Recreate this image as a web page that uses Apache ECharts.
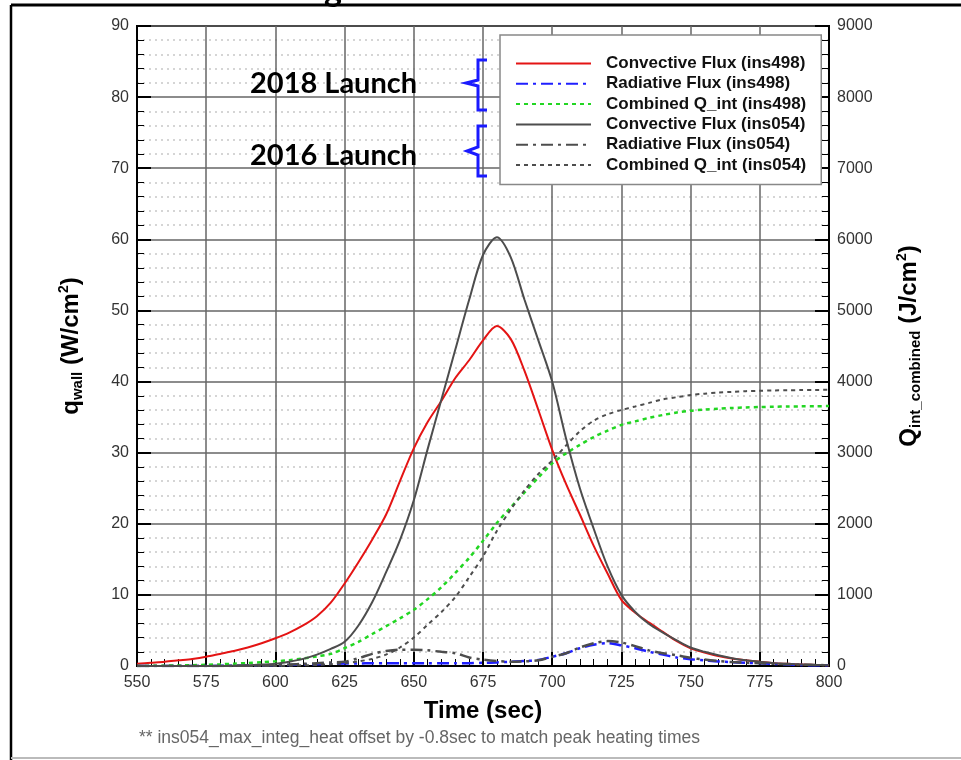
<!DOCTYPE html>
<html><head><meta charset="utf-8">
<script src="https://cdn.jsdelivr.net/npm/echarts@6/dist/echarts.min.js"></script>
<style>html,body{margin:0;padding:0;background:#fff}#c{width:961px;height:760px}</style>
</head><body><div id="c"></div>
<script>
// Time (sec)
const times = [550,555,560,565,570,575,580,585,590,595,600,605,610,615,620,625,630,635,640,645,650,655,660,665,670,675,680,685,690,695,700,705,710,715,720,725,730,735,740,745,750,755,760,765,770,775,780,785,790,795,800];
// Convective Flux ins498 (W/cm2)
const conv498 = [0.3,0.45,0.6,0.8,1.0,1.3,1.7,2.1,2.6,3.2,3.9,4.7,5.7,7.0,8.9,11.6,14.6,17.8,21.3,26.0,30.6,34.3,37.3,40.5,43.0,45.8,47.8,46.0,41.5,36.0,30.4,25.6,21.3,16.9,13.0,9.3,7.5,6.1,4.8,3.5,2.5,1.9,1.4,1.05,0.8,0.6,0.4,0.3,0.2,0.15,0.1];
// Radiative Flux ins498 (W/cm2)
const rad498 = [0,0,0,0,0,0,0.02,0.04,0.06,0.08,0.1,0.15,0.2,0.25,0.3,0.35,0.35,0.4,0.4,0.4,0.4,0.4,0.4,0.4,0.4,0.45,0.5,0.6,0.7,0.85,1.3,1.8,2.5,3.0,3.2,2.9,2.5,2.0,1.6,1.2,0.95,0.8,0.65,0.55,0.45,0.4,0.3,0.2,0.15,0.1,0.1];
// Combined Q_int ins498 (J/cm2)
const qint498 = [0,2,5,8,12,17,24,32,42,52,65,82,105,135,170,250,340,450,560,670,790,940,1110,1310,1520,1760,2010,2230,2440,2650,2850,2990,3110,3220,3310,3390,3440,3490,3530,3565,3590,3605,3618,3628,3636,3642,3646,3649,3651,3653,3655];
// Convective Flux ins054 (W/cm2)
const conv054 = [0,0,0,0,0,0,0,0.05,0.1,0.2,0.3,0.6,1.0,1.6,2.4,3.4,5.7,9.0,13.2,17.7,23.3,30.5,37.5,44.5,51.5,57.8,60.3,57.5,51.5,45.8,40.0,32.0,25.0,19.3,14.0,10.0,7.6,5.9,4.7,3.6,2.6,2.0,1.5,1.1,0.8,0.6,0.4,0.3,0.2,0.15,0.1];
// Radiative Flux ins054 (W/cm2)
const rad054 = [0,0,0,0,0,0,0,0.02,0.04,0.07,0.1,0.2,0.3,0.4,0.5,0.6,1.1,1.7,2.1,2.3,2.3,2.2,2.0,1.8,1.2,0.9,0.7,0.6,0.65,0.8,1.3,1.8,2.6,3.2,3.5,3.3,2.8,2.2,1.8,1.5,1.15,0.9,0.7,0.55,0.45,0.4,0.3,0.25,0.2,0.15,0.1];
// Combined Q_int ins054 (J/cm2)
const qint054 = [0,0,0,0,0,0,0,0,0,0,0,5,10,15,25,40,65,100,160,260,400,580,760,970,1250,1540,1900,2200,2470,2700,2890,3100,3300,3450,3540,3600,3650,3700,3750,3780,3810,3830,3845,3855,3865,3870,3875,3878,3880,3882,3884];

const leftTicks = [0,10,20,30,40,50,60,70,80,90];
const rightTicks = [0,1000,2000,3000,4000,5000,6000,7000,8000,9000];

const pair = v => times.map((t,i)=>[t,v[i]]);
const FF = '"Liberation Sans", Arial, sans-serif';

const chart = echarts.init(document.getElementById('c'), null, {renderer:'canvas'});
const tickStyle = {show:true, inside:true, length:14, lineStyle:{color:'#000', width:2}};
const minorTickStyle = {show:true, splitNumber:5, length:7, lineStyle:{color:'#000', width:1}};

function mk(name, data, axis, color, width, type){
  return {name, type:'line', data:pair(data), yAxisIndex:axis, symbol:'none', smooth:0.3,
    lineStyle:{color, width, type}, itemStyle:{color}, z:3};
}
const nameRich = {
  b:{fontFamily:FF, fontSize:24, fontWeight:'bold', color:'#000'},
  s:{fontFamily:FF, fontSize:15, fontWeight:'bold', color:'#000', padding:[13,0,0,0]},
  p:{fontFamily:FF, fontSize:14, fontWeight:'bold', color:'#000', padding:[0,0,13,0]}
};

chart.setOption({
  animation:false,
  backgroundColor:'#fff',
  grid:{left:137, right:132, top:26, bottom:94, show:true, borderColor:'#000', borderWidth:2},
  legend:{
    orient:'vertical', left:500, top:35, padding:[20,15,11,15], itemGap:3.3,
    itemWidth:75, itemHeight:14, backgroundColor:'#fff', borderColor:'#888', borderWidth:1.5,
    itemStyle:{opacity:0},
    textStyle:{fontFamily:FF, fontSize:17, fontWeight:'bold', color:'#111', padding:[0,0,0,10]},
    data:['Convective Flux (ins498)','Radiative Flux (ins498)','Combined Q_int (ins498)','Convective Flux (ins054)','Radiative Flux (ins054)','Combined Q_int (ins054)'],
    z:10
  },
  xAxis:{
    type:'value', min:550, max:800, interval:25,
    name:'Time (sec)', nameLocation:'middle', nameGap:33,
    nameTextStyle:{fontFamily:FF, fontSize:24, fontWeight:'bold', color:'#000'},
    axisLine:{show:true, lineStyle:{color:'#000', width:2}},
    axisTick:tickStyle, minorTick:minorTickStyle,
    axisLabel:{fontFamily:FF, fontSize:16, color:'#333', margin:9},
    splitLine:{show:true, lineStyle:{color:'#666', width:1.5}}
  },
  yAxis:[{
    type:'value', min:0, max:90, interval:10, position:'left',
    name:'{b|q}{s|wall}{b| (W/cm}{p|2}{b|)}', nameLocation:'middle', nameRotate:90, nameGap:52,
    nameTextStyle:{rich:nameRich},
    axisLine:{show:true, lineStyle:{color:'#000', width:2}},
    axisTick:tickStyle, minorTick:minorTickStyle,
    axisLabel:{fontFamily:FF, fontSize:16, color:'#333', margin:8, formatter:v=>leftTicks.includes(v)?String(v):''},
    splitLine:{show:true, lineStyle:{color:'#666', width:1.5}},
    minorSplitLine:{show:true, lineStyle:{color:'#c8c8c8', width:1.5, type:[2,4]}}
  },{
    type:'value', min:0, max:9000, interval:1000, position:'right',
    name:'{b|Q}{s|int_combined}{b| (J/cm}{p|2}{b|)}', nameLocation:'middle', nameRotate:90, nameGap:66,
    nameTextStyle:{rich:nameRich},
    axisLine:{show:true, lineStyle:{color:'#000', width:2}},
    axisTick:tickStyle, minorTick:minorTickStyle,
    axisLabel:{fontFamily:FF, fontSize:16, color:'#333', margin:8, formatter:v=>rightTicks.includes(v)?String(v):''},
    splitLine:{show:false}
  }],
  series:[
    mk('Convective Flux (ins498)', conv498, 0, '#e41414', 2, 'solid'),
    mk('Radiative Flux (ins498)', rad498, 0, '#1f1fff', 2.5, [12,5,3,5]),
    mk('Combined Q_int (ins498)', qint498, 1, '#22d622', 2.5, [4,4]),
    mk('Convective Flux (ins054)', conv054, 0, '#4d4d4d', 2, 'solid'),
    mk('Radiative Flux (ins054)', rad054, 0, '#4d4d4d', 2.5, [12,5,3,5]),
    mk('Combined Q_int (ins054)', qint054, 1, '#4d4d4d', 2, [4,4])
  ],
  graphic:[
    {type:'line', shape:{x1:11, y1:5, x2:961, y2:5}, style:{stroke:'#000', lineWidth:3}, z:20},
    {type:'line', shape:{x1:11, y1:5, x2:11, y2:760}, style:{stroke:'#000', lineWidth:2.5}, z:20},
    {type:'line', shape:{x1:11, y1:758, x2:961, y2:758}, style:{stroke:'#bbb', lineWidth:2}, z:20},
    {type:'text', left:324, top:-27, style:{text:'g', fontFamily:'Lato, sans-serif', fontSize:34, fontWeight:'bold', fill:'#000'}, z:20},
    {type:'text', style:{x:250, y:84, text:'2018 Launch', verticalAlign:'middle', fontFamily:'Lato, sans-serif', fontSize:29, fontWeight:'bold', fill:'#000'}, z:20},
    {type:'text', style:{x:250, y:156, text:'2016 Launch', verticalAlign:'middle', fontFamily:'Lato, sans-serif', fontSize:29, fontWeight:'bold', fill:'#000'}, z:20},
    {type:'polyline', shape:{points:[[487,60],[478,60],[478,80],[466,83],[478,86],[478,110],[487,110]]}, style:{stroke:'#1a1aff', lineWidth:3, fill:null}, z:20},
    {type:'polyline', shape:{points:[[487,126],[478,126],[478,147],[467,151],[478,155],[478,176],[487,176]]}, style:{stroke:'#1a1aff', lineWidth:3, fill:null}, z:20},
    {type:'text', style:{x:139, y:738, text:'** ins054_max_integ_heat offset by -0.8sec to match peak heating times', verticalAlign:'middle', fontFamily:FF, fontSize:17.5, fill:'#666'}, z:20}
  ]
});
</script>
</body></html>
